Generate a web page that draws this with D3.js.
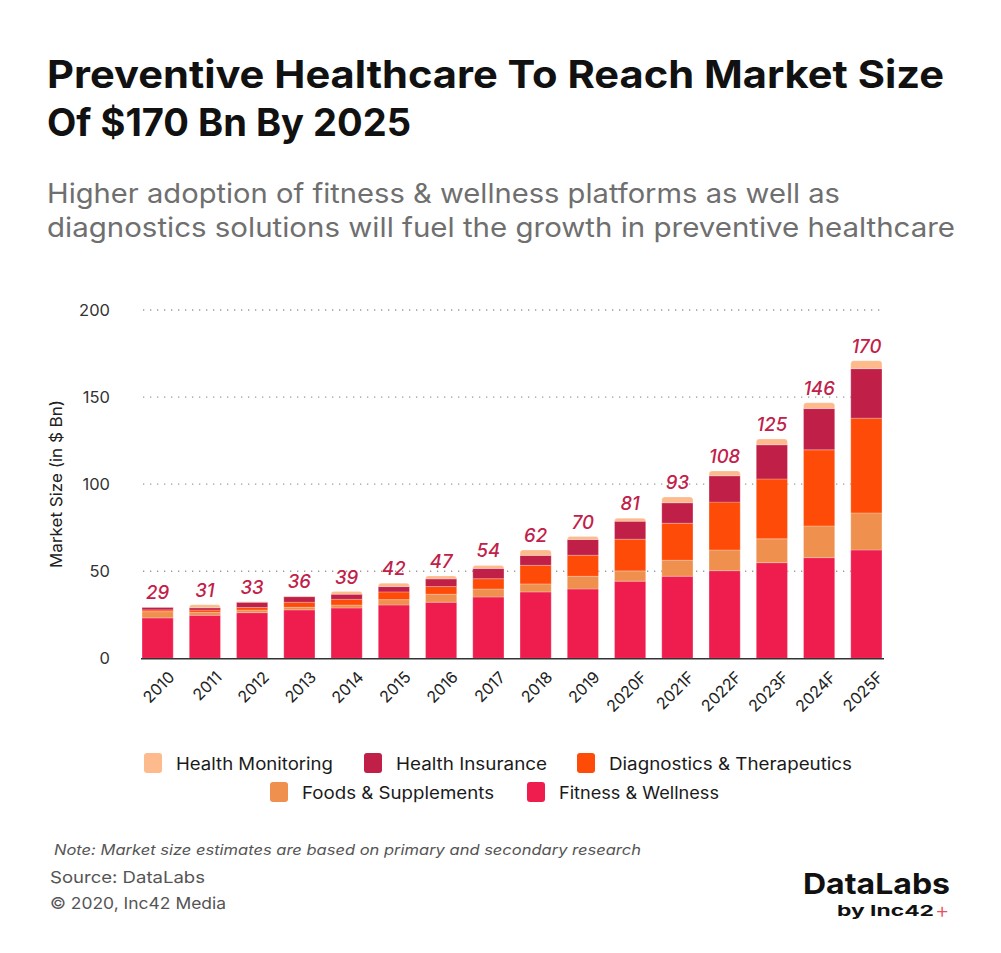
<!DOCTYPE html>
<html>
<head>
<meta charset="utf-8">
<script src="https://cdn.jsdelivr.net/npm/d3@7"></script>
<style>
  html, body { margin: 0; padding: 0; background: #fff; }
  svg { display: block; font-family: "Inter", "Noto Sans", sans-serif; }
</style>
</head>
<body>
<svg id="chart" width="1001" height="953"></svg>
<script>
// ---------- DATA ----------
const years = ["2010","2011","2012","2013","2014","2015","2016","2017","2018","2019","2020F","2021F","2022F","2023F","2024F","2025F"];
const fitnessWellness     = [23.2,24.7,26.2,27.8,28.9,30.6,32.2,35.2,38.1,39.8,44.3,47.1,50.3,54.9,57.8,62.2];
const foodsSupplements    = [3.6,1.7,1.5,1.5,1.7,3.1,4.6,4.6,4.6,7.3,5.9,9.2,11.9,13.7,18.2,21.3];
const diagnosticsTherap   = [1.0,1.3,1.5,2.9,3.3,4.4,4.4,5.9,10.7,12.1,18.2,21.3,27.5,34.4,43.7,54.4];
const healthInsurance     = [1.5,1.3,3.0,3.2,2.9,3.1,4.4,5.9,5.7,9.0,10.3,11.7,15.1,19.6,23.7,28.4];
const healthMonitoring    = [0.2,1.7,0.3,0.3,1.5,1.9,1.7,1.7,3.1,1.7,1.7,3.3,2.8,3.3,3.3,4.6];
const totalLabels         = [29,31,33,36,39,42,47,54,62,70,81,93,108,125,146,170];
const yTicks = [0,50,100,150,200];

const seriesNames = ["Fitness & Wellness","Foods & Supplements","Diagnostics & Therapeutics","Health Insurance","Health Monitoring"];
const seriesValues = [fitnessWellness, foodsSupplements, diagnosticsTherap, healthInsurance, healthMonitoring];
const colors = {
  "Health Monitoring": "#FDBA8D",
  "Health Insurance": "#C01F48",
  "Diagnostics & Therapeutics": "#FF4B08",
  "Foods & Supplements": "#F0904F",
  "Fitness & Wellness": "#EE1D4E"
};

// table for d3.stack
const table = years.map((yr, i) => {
  const row = { year: yr };
  seriesNames.forEach((s, j) => row[s] = seriesValues[j][i]);
  return row;
});

// ---------- LAYOUT ----------
const svg = d3.select("#chart");

const x = d3.scaleBand().domain(years).range([134, 890]).paddingInner(0.34).paddingOuter(0.17);
const y = d3.scaleLinear().domain([0, 200]).range([658.3, 310]);

// Title
const title = svg.append("g").attr("font-weight", 700).attr("fill", "#111").attr("font-size", 38);
title.append("text").attr("x", 47).attr("y", 88).attr("textLength", 897).attr("lengthAdjust", "spacingAndGlyphs")
  .text("Preventive Healthcare To Reach Market Size");
title.append("text").attr("x", 47).attr("y", 136).attr("textLength", 364).attr("lengthAdjust", "spacingAndGlyphs")
  .text("Of $170 Bn By 2025");

const sub = svg.append("g").attr("fill", "#6f6f6f").attr("font-size", 27).attr("font-weight", 400);
sub.append("text").attr("x", 47).attr("y", 203).attr("textLength", 793).attr("lengthAdjust", "spacingAndGlyphs")
  .text("Higher adoption of fitness & wellness platforms as well as");
sub.append("text").attr("x", 47).attr("y", 237).attr("textLength", 908).attr("lengthAdjust", "spacingAndGlyphs")
  .text("diagnostics solutions will fuel the growth in preventive healthcare");

// Gridlines
svg.append("g").selectAll("line").data(yTicks.filter(d => d > 0)).join("line")
  .attr("x1", 143).attr("x2", 882)
  .attr("y1", d => y(d)).attr("y2", d => y(d))
  .attr("stroke", "#9a9a9a").attr("stroke-width", 1.3)
  .attr("stroke-dasharray", "1.3,5.7");

// Y axis
const yAxis = svg.append("g").attr("transform", "translate(112,0)")
  .call(d3.axisLeft(y).tickValues(yTicks).tickSize(0).tickPadding(2));
yAxis.select(".domain").remove();
yAxis.selectAll("text").attr("font-size", 16.5).attr("fill", "#333").attr("font-family", "Inter, sans-serif");

svg.append("text")
  .attr("transform", "translate(62,484) rotate(-90)")
  .attr("text-anchor", "middle").attr("font-size", 16.5).attr("fill", "#222")
  .attr("textLength", 168).attr("lengthAdjust", "spacingAndGlyphs")
  .text("Market Size (in $ Bn)");

// Stacked bars
const stack = d3.stack().keys(seriesNames)(table);
const topKey = seriesNames[seriesNames.length - 1];

function roundedTop(x0, y0, w, h, r) {
  r = Math.min(r, h, w / 2);
  return `M${x0},${y0 + h}V${y0 + r}Q${x0},${y0} ${x0 + r},${y0}H${x0 + w - r}Q${x0 + w},${y0} ${x0 + w},${y0 + r}V${y0 + h}Z`;
}

const layers = svg.append("g").selectAll("g").data(stack).join("g")
  .attr("fill", d => colors[d.key]);

layers.each(function(layer) {
  const g = d3.select(this);
  g.selectAll("path").data(layer).join("path")
    .attr("d", d => {
      const x0 = x(d.data.year), w = x.bandwidth();
      const y0 = y(d[1]), h = y(d[0]) - y(d[1]);
      return layer.key === topKey ? roundedTop(x0, y0, w, h, 3) : `M${x0},${y0}h${w}v${h}h${-w}Z`;
    })
    .attr("stroke", "#ffffff").attr("stroke-opacity", 0.3).attr("stroke-width", 0.8);
});

// Baseline
svg.append("line").attr("x1", 141).attr("x2", 884).attr("y1", y(0) + 0.5).attr("y2", y(0) + 0.5)
  .attr("stroke", "#333").attr("stroke-width", 1.4);

// Total labels
const topLayer = stack[stack.length - 1];
svg.append("g").selectAll("text").data(topLayer).join("text")
  .attr("x", d => x(d.data.year) + x.bandwidth() / 2)
  .attr("y", d => y(d[1]) - 8)
  .attr("text-anchor", "middle")
  .attr("font-size", 18.5).attr("font-style", "italic").attr("font-weight", 500)
  .attr("fill", "#C22049")
  .text((d, i) => totalLabels[i]);

// X axis
const xAxis = svg.append("g").attr("transform", `translate(0,${y(0) + 12})`)
  .call(d3.axisBottom(x).tickSize(0).tickPadding(0));
xAxis.select(".domain").remove();
xAxis.selectAll("text")
  .attr("font-size", 16).attr("fill", "#222").attr("font-family", "Inter, sans-serif")
  .attr("text-anchor", "end")
  .attr("dy", "0.7em")
  .attr("transform", "translate(10,0) rotate(-45)");

// Legend
const legendItems = [
  { name: "Health Monitoring", sx: 144, tx: 176, ty: 770, tw: 157 },
  { name: "Health Insurance", sx: 364, tx: 396, ty: 770, tw: 151 },
  { name: "Diagnostics & Therapeutics", sx: 577, tx: 609, ty: 770, tw: 243 },
  { name: "Foods & Supplements", sx: 270, tx: 302, ty: 799, tw: 192 },
  { name: "Fitness & Wellness", sx: 527, tx: 559, ty: 799, tw: 160 }
];
const lg = svg.append("g");
lg.selectAll("rect").data(legendItems).join("rect")
  .attr("x", d => d.sx).attr("y", d => d.ty - 17).attr("width", 18).attr("height", 20).attr("rx", 3)
  .attr("fill", d => colors[d.name]);
lg.selectAll("text").data(legendItems).join("text")
  .attr("x", d => d.tx).attr("y", d => d.ty)
  .attr("font-size", 17).attr("fill", "#1a1a1a")
  .attr("textLength", d => d.tw).attr("lengthAdjust", "spacingAndGlyphs")
  .text(d => d.name);

// Footer
svg.append("text").attr("x", 54).attr("y", 855).attr("font-size", 14.5).attr("font-style", "italic")
  .attr("fill", "#555").attr("textLength", 587).attr("lengthAdjust", "spacingAndGlyphs")
  .text("Note: Market size estimates are based on primary and secondary research");
svg.append("text").attr("x", 50).attr("y", 883).attr("font-size", 16.5)
  .attr("fill", "#555").attr("textLength", 155).attr("lengthAdjust", "spacingAndGlyphs")
  .text("Source: DataLabs");
svg.append("text").attr("x", 50).attr("y", 909).attr("font-size", 16.5)
  .attr("fill", "#555").attr("textLength", 176).attr("lengthAdjust", "spacingAndGlyphs")
  .text("© 2020, Inc42 Media");

// Logo
svg.append("text").attr("x", 803).attr("y", 894).attr("font-size", 29).attr("font-weight", 700)
  .attr("fill", "#111").attr("textLength", 147).attr("lengthAdjust", "spacingAndGlyphs")
  .text("DataLabs");
svg.append("text").attr("x", 837).attr("y", 916).attr("font-size", 15).attr("font-weight", 700)
  .attr("fill", "#111").attr("textLength", 97).attr("lengthAdjust", "spacingAndGlyphs")
  .text("by Inc42");
svg.append("text").attr("x", 935).attr("y", 918).attr("font-size", 22).attr("font-weight", 300)
  .attr("fill", "#E8505B")
  .text("+");
</script>
</body>
</html>
